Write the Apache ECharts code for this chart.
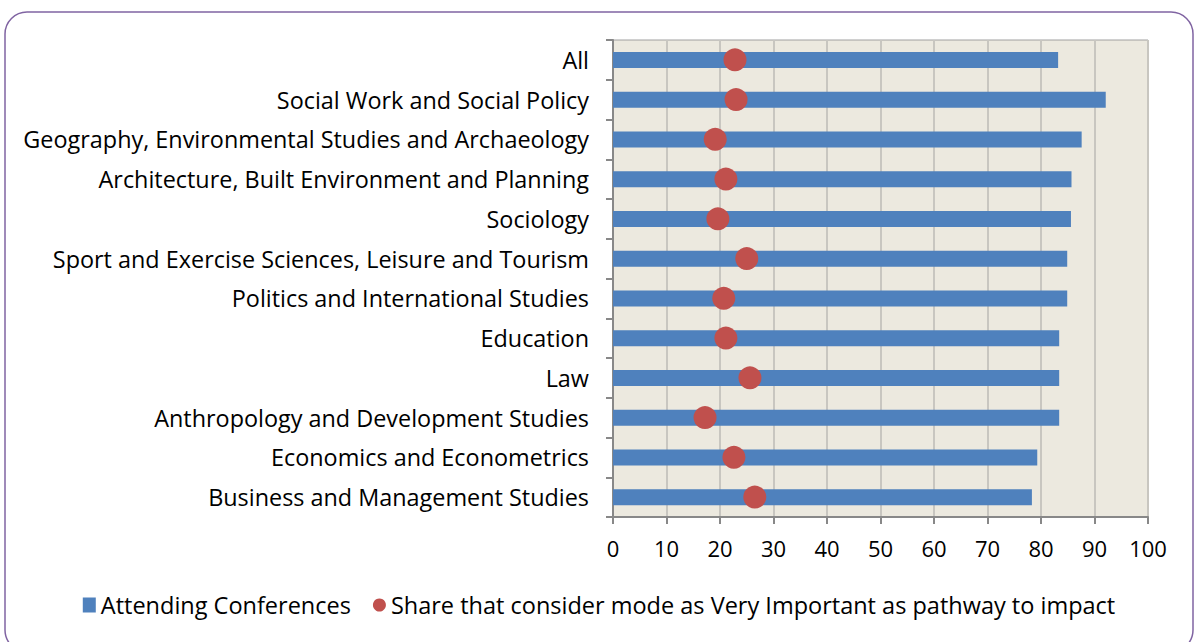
<!DOCTYPE html>
<html>
<head>
<meta charset="utf-8">
<script src="https://cdn.jsdelivr.net/npm/echarts@6/dist/echarts.min.js"></script>
<style>
  html, body { margin: 0; padding: 0; background: #fff; }
  #chart { width: 1198px; height: 642px; }
</style>
</head>
<body>
<div id="chart"></div>
<script>
// categories, top to bottom
var categories = [
    'All',
    'Social Work and Social Policy',
    'Geography, Environmental Studies and Archaeology',
    'Architecture, Built Environment and Planning',
    'Sociology',
    'Sport and Exercise Sciences, Leisure and Tourism',
    'Politics and International Studies',
    'Education',
    'Law',
    'Anthropology and Development Studies',
    'Economics and Econometrics',
    'Business and Management Studies'
];
var attendingConferences = [83.2, 92.1, 87.6, 85.7, 85.6, 84.9, 84.9, 83.4, 83.4, 83.4, 79.3, 78.3];
var veryImportantShare = [22.8, 23.0, 19.1, 21.1, 19.6, 25.0, 20.7, 21.1, 25.6, 17.2, 22.6, 26.5];
var xTicks = [0, 10, 20, 30, 40, 50, 60, 70, 80, 90, 100];

var fontFamily = '"Open Sans", "Noto Sans", sans-serif';

var myChart = echarts.init(document.getElementById('chart'), null, { renderer: 'svg' });

var scatterData = [];
for (var i = 0; i < categories.length; i++) {
    scatterData.push([veryImportantShare[i], categories[i]]);
}

var option = {
    animation: false,
    graphic: [{
        type: 'rect',
        shape: { x: 5, y: 12, width: 1188, height: 640, r: 22 },
        style: { fill: 'none', stroke: '#8064A2', lineWidth: 1.5 },
        z: 0
    }],
    legend: {
        bottom: 20,
        left: 'center',
        itemGap: 22,
        itemWidth: 13,
        itemHeight: 15,
        textStyle: { fontFamily: fontFamily, fontSize: 23.5, color: '#000' },
        data: [
            { name: 'Attending Conferences', icon: 'rect' },
            { name: 'Share that consider mode as Very Important as pathway to impact', icon: 'circle' }
        ]
    },
    grid: {
        left: 613,
        right: 50,
        top: 40,
        bottom: 125,
        show: true,
        backgroundColor: '#ECE9DF',
        borderColor: '#A0A0A0',
        borderWidth: 1
    },
    xAxis: {
        type: 'value',
        min: 0,
        max: 100,
        interval: 10,
        axisLine: { show: true, lineStyle: { color: '#888', width: 2 } },
        axisTick: { show: true, length: 7, lineStyle: { color: '#888', width: 2 } },
        splitLine: { show: true, lineStyle: { color: '#C8C6C0', width: 2 } },
        axisLabel: {
            fontFamily: fontFamily, fontSize: 22, color: '#000', margin: 20,
            formatter: function (v) { return xTicks.indexOf(v) >= 0 ? String(v) : ''; }
        }
    },
    yAxis: {
        type: 'category',
        inverse: true,
        data: categories,
        axisLine: { show: true, lineStyle: { color: '#888', width: 2 } },
        axisTick: { show: true, length: 7, lineStyle: { color: '#888', width: 2 } },
        axisLabel: { fontFamily: fontFamily, fontSize: 23.4, color: '#000', margin: 24 }
    },
    series: [
        {
            name: 'Attending Conferences',
            type: 'bar',
            barWidth: 16,
            itemStyle: { color: '#4F81BD' },
            data: attendingConferences
        },
        {
            name: 'Share that consider mode as Very Important as pathway to impact',
            type: 'scatter',
            symbol: 'circle',
            symbolSize: 23,
            itemStyle: { color: '#C0504D', opacity: 1 },
            data: scatterData,
            z: 5
        }
    ]
};
myChart.setOption(option, true);
</script>
</body>
</html>
